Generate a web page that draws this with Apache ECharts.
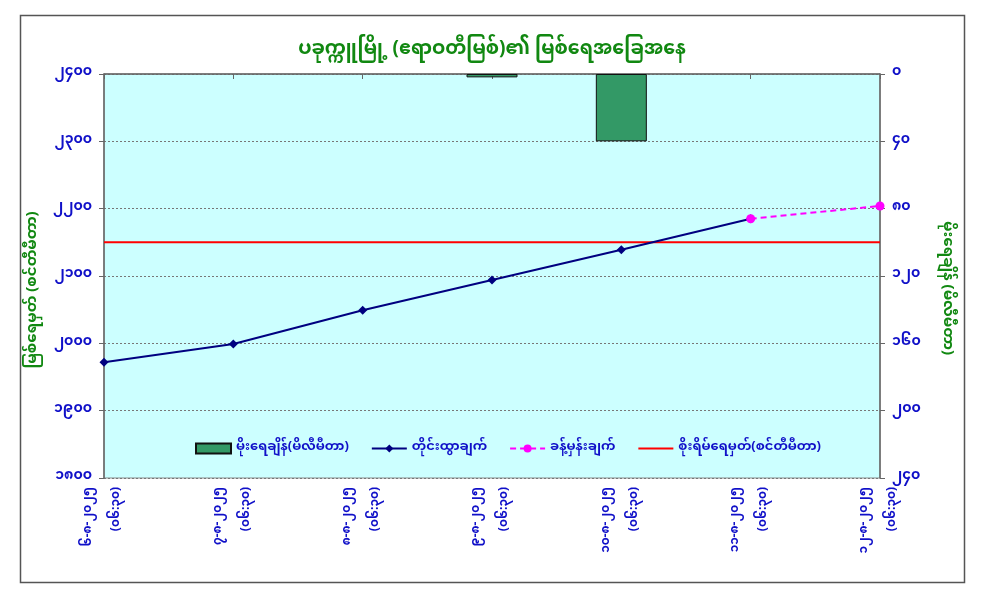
<!DOCTYPE html>
<html><head><meta charset="utf-8">
<script src="https://cdn.jsdelivr.net/npm/echarts@6/dist/echarts.min.js"></script>
<style>html,body{margin:0;padding:0;background:#fff}#c{width:984px;height:597px}</style>
</head><body><div id="c"></div>
<script>
var categories = ['၆-၈-၂၀၂၅\n(၀၆:၃၀)','၇-၈-၂၀၂၅\n(၀၆:၃၀)','၈-၈-၂၀၂၅\n(၀၆:၃၀)','၉-၈-၂၀၂၅\n(၀၆:၃၀)','၁၀-၈-၂၀၂၅\n(၀၆:၃၀)','၁၁-၈-၂၀၂၅\n(၀၆:၃၀)','၁၂-၈-၂၀၂၅\n(၀၆:၃၀)'];
var rainfall = [0, 0, 0, 2, 40, null, null];
var observed = [1972, 1999, 2049, 2094, 2139, 2185, null];
var forecast = [null, null, null, null, null, 2185, 2204];
var dangerLevel = [2150, 2150, 2150, 2150, 2150, 2150, 2150];
var titleText = 'ပခုက္ကူမြို့ (ဧရာဝတီမြစ်)၏ မြစ်ရေအခြေအနေ';
var leftName = 'မြစ်ရေမှတ် (စင်တီမီတာ)';
var rightName = 'မိုးရေချိန် (မိလီမီတာ)';
var seriesNames = ['မိုးရေချိန်(မိလီမီတာ)', 'တိုင်းထွာချက်', 'ခန့်မှန်းချက်', 'စိုးရိမ်ရေမှတ်(စင်တီမီတာ)'];

var MY = ['၀','၁','၂','၃','၄','၅','၆','၇','၈','၉'];
function toMy(v){ return String(v).replace(/[0-9]/g, function(d){ return MY[+d]; }); }
var FF = '"Noto Sans Myanmar", "Noto Sans Myanmar UI", Padauk, "Myanmar Text", "Noto Sans", sans-serif';
var BLUE = '#1010c8';
var GREEN = '#118811';

var rainData = rainfall.map(function(v){
  return v === 0 ? { value: v, itemStyle: { borderWidth: 0 } } : v;
});

var chart = echarts.init(document.getElementById('c'));
chart.setOption({
  backgroundColor: '#ffffff',
  animation: false,
  textStyle: { fontFamily: FF },
  graphic: [{
    type: 'rect', left: 18, top: 13, shape: { width: 944, height: 567 },
    style: { fill: 'none', stroke: '#555', lineWidth: 1.5 }, silent: true
  }],
  title: {
    text: titleText, left: 'center', top: 37,
    textStyle: { color: GREEN, fontSize: 19, fontWeight: 'bold', fontFamily: FF }
  },
  legend: {
    left: 190, top: 437, itemWidth: 35, itemHeight: 10, itemGap: 22,
    textStyle: { color: BLUE, fontSize: 13, fontWeight: 'bold', fontFamily: FF },
    data: [
      { name: seriesNames[0], icon: 'rect' },
      { name: seriesNames[1] },
      { name: seriesNames[2] },
      { name: seriesNames[3], itemStyle: { opacity: 0 } }
    ]
  },
  grid: { left: 104, right: 104, top: 74, bottom: 119, show: true, backgroundColor: '#ccffff', borderWidth: 1, borderColor: '#888' },
  xAxis: {
    type: 'category', data: categories, boundaryGap: false,
    axisLine: { lineStyle: { color: '#666', width: 1.5 } },
    axisTick: { show: true, alignWithLabel: true, length: 5, lineStyle: { color: '#666' } },
    axisLabel: { rotate: 90, color: BLUE, fontSize: 12, fontWeight: 'bold', fontFamily: FF, lineHeight: 28, margin: 9 }
  },
  yAxis: [{
    type: 'value', min: 1800, max: 2400, interval: 100, position: 'left',
    name: leftName, nameLocation: 'middle', nameRotate: 90, nameGap: 56,
    nameTextStyle: { color: GREEN, fontSize: 15, fontWeight: 'bold', fontFamily: FF, padding: [0, 28, 0, 0] },
    axisLine: { show: true, lineStyle: { color: '#666', width: 1.5 } },
    axisTick: { show: true, length: 5, lineStyle: { color: '#666' } },
    axisLabel: { color: BLUE, fontSize: 14, fontWeight: 'bold', fontFamily: FF, margin: 12, formatter: function(v){ return toMy(v); } },
    splitLine: { show: true, lineStyle: { color: '#777', type: [2, 2], width: 1 } }
  }, {
    type: 'value', min: 0, max: 240, interval: 40, position: 'right', inverse: true,
    name: rightName, nameLocation: 'middle', nameRotate: -90, nameGap: 58,
    nameTextStyle: { color: GREEN, fontSize: 15, fontWeight: 'bold', fontFamily: FF, padding: [0, 0, 0, 24] },
    axisLine: { show: true, lineStyle: { color: '#666', width: 1.5 } },
    axisTick: { show: true, length: 5, lineStyle: { color: '#666' } },
    axisLabel: { color: BLUE, fontSize: 14, fontWeight: 'bold', fontFamily: FF, margin: 12, formatter: function(v){ return toMy(v); } },
    splitLine: { show: false }
  }],
  series: [{
    name: seriesNames[0], type: 'bar', yAxisIndex: 1, data: rainData, barWidth: 51,
    itemStyle: { color: '#339966', borderColor: '#111', borderWidth: 1 }, z: 2
  }, {
    name: seriesNames[3], type: 'line', data: dangerLevel, symbol: 'none',
    lineStyle: { color: '#ff0000', width: 2 }, itemStyle: { color: '#ff0000' }, z: 3
  }, {
    name: seriesNames[1], type: 'line', data: observed, symbol: 'diamond', symbolSize: 9,
    lineStyle: { color: '#000080', width: 2 }, itemStyle: { color: '#000080' }, z: 4
  }, {
    name: seriesNames[2], type: 'line', data: forecast, symbol: 'circle', symbolSize: 9,
    lineStyle: { color: '#ff00ff', width: 2, type: [6, 4] }, itemStyle: { color: '#ff00ff' }, z: 5
  }]
});
</script></body></html>
